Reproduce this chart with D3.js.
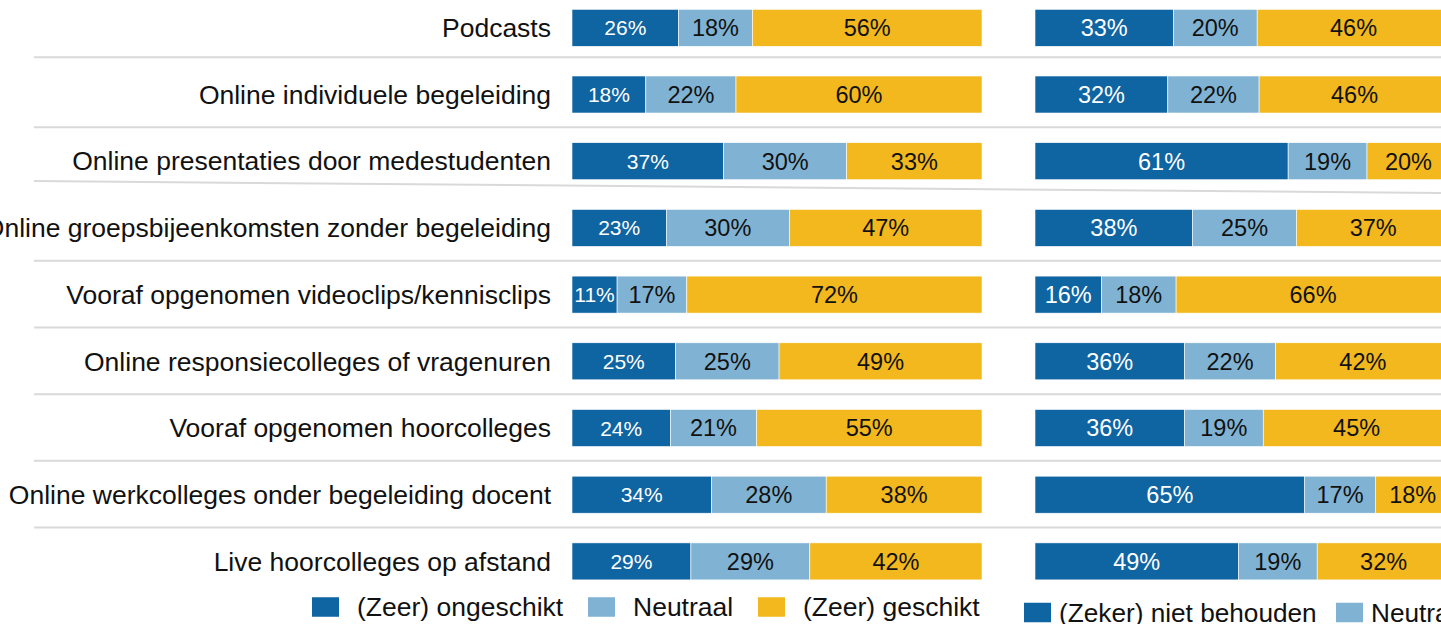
<!DOCTYPE html>
<html>
<head>
<meta charset="utf-8">
<script src="https://cdn.jsdelivr.net/npm/d3@7"></script>
<style>
  html, body { margin: 0; padding: 0; background: #fff; overflow: hidden; }
  svg { display: block; font-family: "Liberation Sans", Arial, sans-serif; }
</style>
</head>
<body>
<svg id="chart" width="1441" height="624"></svg>
<script>
// categories, top to bottom
var categories = [
  "Podcasts",
  "Online individuele begeleiding",
  "Online presentaties door medestudenten",
  "Online groepsbijeenkomsten zonder begeleiding",
  "Vooraf opgenomen videoclips/kennisclips",
  "Online responsiecolleges of vragenuren",
  "Vooraf opgenomen hoorcolleges",
  "Online werkcolleges onder begeleiding docent",
  "Live hoorcolleges op afstand"
];

// left panel: geschiktheid (%)
var ongeschikt = [26, 18, 37, 23, 11, 25, 24, 34, 29];
var neutraalL  = [18, 22, 30, 30, 17, 25, 21, 28, 29];
var geschikt   = [56, 60, 33, 47, 72, 49, 55, 38, 42];

// right panel: behouden (%)
var nietBehouden = [33, 32, 61, 38, 16, 36, 36, 65, 49];
var neutraalR    = [20, 22, 19, 25, 18, 22, 19, 17, 19];
var welBehouden  = [46, 46, 20, 37, 66, 42, 45, 18, 32];

var legendLeft  = ["(Zeer) ongeschikt", "Neutraal", "(Zeer) geschikt"];
var legendRight = ["(Zeker) niet behouden", "Neutraal"];

var colors = ["#0f64a2", "#80b3d3", "#f2b81d"];
var keys = ["a", "b", "c"];

var svg = d3.select("#chart");

var y = d3.scaleBand()
    .domain(categories)
    .range([9.3, 579.9])
    .paddingInner(0.445)
    .paddingOuter(0);

var step = y.step(), bw = y.bandwidth();

// separator lines between rows
var seps = categories.slice(0, -1);
svg.selectAll("line.sep")
    .data(seps)
    .enter().append("line")
    .attr("class", "sep")
    .attr("x1", 34)
    .attr("x2", 1441)
    .attr("y1", function(d, i) {
        var m = y(d) + bw + (step - bw) / 2 - 0.5;
        if (i == 0) return m - 3.5;
        if (i == 2) return m - 13;
        return m;
    })
    .attr("y2", function(d, i) {
        var m = y(d) + bw + (step - bw) / 2 - 0.5;
        if (i == 0) return m - 3.5;
        if (i == 2) return m - 1;
        return m;
    })
    .style("stroke", "#d9d9d9")
    .style("stroke-width", 2);

// category labels
svg.selectAll("text.cat")
    .data(categories)
    .enter().append("text")
    .attr("class", "cat")
    .attr("x", 551)
    .attr("y", function(d) { return y(d) + bw / 2; })
    .attr("dy", "0.35em")
    .attr("text-anchor", "end")
    .style("font-size", "26.5px")
    .style("fill", "#111")
    .text(function(d) { return d; });

function drawPanel(x0, width, s1, s2, s3, whiteSize, darkSize) {
    var rows = categories.map(function(c, i) {
        return { cat: c, a: s1[i], b: s2[i], c: s3[i] };
    });
    var x = d3.scaleLinear().domain([0, 1]).range([x0, x0 + width]);
    var stack = d3.stack().keys(keys).offset(d3.stackOffsetExpand)(rows);

    var g = svg.append("g");
    var layers = g.selectAll("g.layer")
        .data(stack)
        .enter().append("g")
        .attr("class", "layer")
        .style("fill", function(d, i) { return colors[i]; });

    layers.selectAll("rect")
        .data(function(d) { return d; })
        .enter().append("rect")
        .attr("x", function(d) { return x(d[0]); })
        .attr("y", function(d) { return y(d.data.cat); })
        .attr("width", function(d) { return x(d[1]) - x(d[0]); })
        .attr("height", bw)
        .style("stroke", "#fff")
        .style("stroke-width", 0.6);

    layers.selectAll("text")
        .data(function(d) { return d.map(function(p) { p.key = d.key; return p; }); })
        .enter().append("text")
        .attr("x", function(d) { return (x(d[0]) + x(d[1])) / 2; })
        .attr("y", function(d) { return y(d.data.cat) + bw / 2; })
        .attr("dy", "0.36em")
        .attr("text-anchor", "middle")
        .style("fill", function(d) { return d.key == "a" ? "#fff" : "#111"; })
        .style("font-size", function(d) { return d.key == "a" ? whiteSize : darkSize; })
        .text(function(d) { return d.data[d.key] + "%"; });
}

drawPanel(572, 410, ongeschikt, neutraalL, geschikt, "21px", "23.5px");
drawPanel(1035, 415, nietBehouden, neutraalR, welBehouden, "23.5px", "23.5px");

// legends
function drawLegend(items, xs, cy, size, textSize) {
    var lg = svg.append("g");
    var it = lg.selectAll("g")
        .data(items)
        .enter().append("g")
        .attr("transform", function(d, i) { return "translate(" + xs[i] + "," + cy + ")"; });
    it.append("rect")
        .attr("x", 0)
        .attr("y", -size[1] / 2)
        .attr("width", size[0])
        .attr("height", size[1])
        .style("fill", function(d, i) { return colors[i]; });
    it.append("text")
        .attr("x", size[2])
        .attr("dy", "0.35em")
        .style("font-size", textSize)
        .style("fill", "#111")
        .text(function(d) { return d; });
}

drawLegend(legendLeft, [312, 588, 758], 607, [27, 19.5, 45], "26.5px");
drawLegend(legendRight, [1024, 1336], 612.5, [27, 19.5, 35], "26.2px");
</script>
</body>
</html>
